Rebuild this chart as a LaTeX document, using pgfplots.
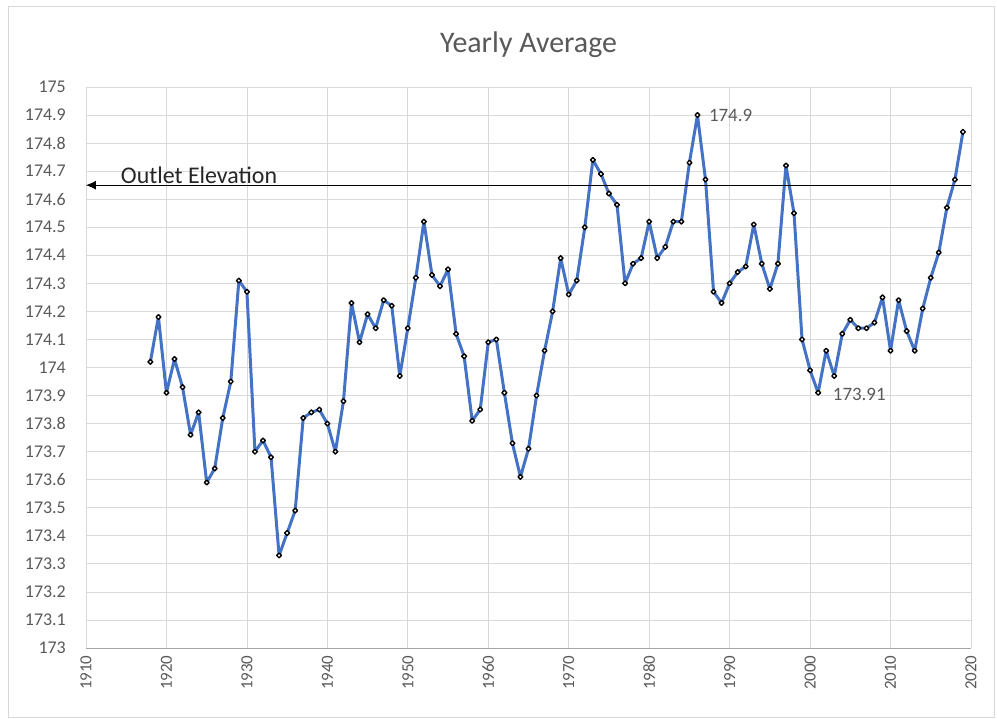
\documentclass[border=0pt]{standalone}
\usepackage{pgfplots}
\pgfplotsset{compat=1.18}
\usepackage{fontspec}
\setmainfont{Carlito}
\usetikzlibrary{arrows.meta}
\definecolor{exblue}{RGB}{68,114,196}
\definecolor{txtgray}{RGB}{89,89,89}
\definecolor{gridgray}{RGB}{217,217,217}
\begin{document}
\begin{tikzpicture}
\useasboundingbox (-86bp,-71bp) rectangle (911bp,648bp);
\draw[gridgray, line width=0.8bp] (-78bp,-69bp) rectangle (908bp,642bp);
\begin{axis}[
  at={(0,0)}, anchor=south west,
  scale only axis, width=885bp, height=561bp,
  xmin=1910, xmax=2020, ymin=173, ymax=175,
  xtick={1910,1920,...,2020},
  ytick={173,173.1,...,175.05},
  grid=major,
  grid style={gridgray, line width=0.8bp},
  axis line style={draw=none},
  major tick length=0pt,
  /pgf/number format/assume math mode=true,
  xticklabel style={/pgf/number format/set thousands separator={}, rotate=90, anchor=east, font=\fontsize{17}{17}\selectfont, text=txtgray, xshift=-4bp},
  yticklabel style={/pgf/number format/fixed, /pgf/number format/precision=1, font=\fontsize{18}{18}\selectfont, text=txtgray, anchor=east, inner sep=0pt, xshift=-20bp},
  title={Yearly Average},
  title style={font=\fontsize{30}{32}\selectfont, text=txtgray, yshift=20bp},
  clip=false,
]
\draw[gray!70, line width=0.8bp] (axis cs:1910,173) -- (axis cs:2020,173);
\addplot[exblue, line width=3bp, line join=round, mark=square*, mark size=1.7bp, mark options={rotate=45, fill=white, draw=black, line width=1.4bp}] coordinates {
(1918,174.02) (1919,174.18) (1920,173.91) (1921,174.03) (1922,173.93)
(1923,173.76) (1924,173.84) (1925,173.59) (1926,173.64) (1927,173.82)
(1928,173.95) (1929,174.31) (1930,174.27) (1931,173.70) (1932,173.74)
(1933,173.68) (1934,173.33) (1935,173.41) (1936,173.49) (1937,173.82)
(1938,173.84) (1939,173.85) (1940,173.80) (1941,173.70) (1942,173.88)
(1943,174.23) (1944,174.09) (1945,174.19) (1946,174.14) (1947,174.24)
(1948,174.22) (1949,173.97) (1950,174.14) (1951,174.32) (1952,174.52)
(1953,174.33) (1954,174.29) (1955,174.35) (1956,174.12) (1957,174.04)
(1958,173.81) (1959,173.85) (1960,174.09) (1961,174.10) (1962,173.91)
(1963,173.73) (1964,173.61) (1965,173.71) (1966,173.90) (1967,174.06)
(1968,174.20) (1969,174.39) (1970,174.26) (1971,174.31) (1972,174.50)
(1973,174.74) (1974,174.69) (1975,174.62) (1976,174.58) (1977,174.30)
(1978,174.37) (1979,174.39) (1980,174.52) (1981,174.39) (1982,174.43)
(1983,174.52) (1984,174.52) (1985,174.73) (1986,174.90) (1987,174.67)
(1988,174.27) (1989,174.23) (1990,174.30) (1991,174.34) (1992,174.36)
(1993,174.51) (1994,174.37) (1995,174.28) (1996,174.37) (1997,174.72)
(1998,174.55) (1999,174.10) (2000,173.99) (2001,173.91) (2002,174.06)
(2003,173.97) (2004,174.12) (2005,174.17) (2006,174.14) (2007,174.14)
(2008,174.16) (2009,174.25) (2010,174.06) (2011,174.24) (2012,174.13)
(2013,174.06) (2014,174.21) (2015,174.32) (2016,174.41) (2017,174.57)
(2018,174.67) (2019,174.84)
};
\draw[black, line width=0.8bp, -{Latex[length=10bp,width=9bp]}] (axis cs:2020,174.65) -- (axis cs:1910,174.65);
\node[anchor=south west, font=\fontsize{24}{26}\selectfont, text=black!85, inner sep=1bp] at (axis cs:1914.2,174.652) {Outlet Elevation};
\node[anchor=west, font=\fontsize{19}{19}\selectfont, text=txtgray] at (axis cs:1987,174.9) {174.9};
\node[anchor=west, font=\fontsize{19}{19}\selectfont, text=txtgray] at (axis cs:2002.4,173.905) {173.91};
\end{axis}
\end{tikzpicture}
\end{document}
